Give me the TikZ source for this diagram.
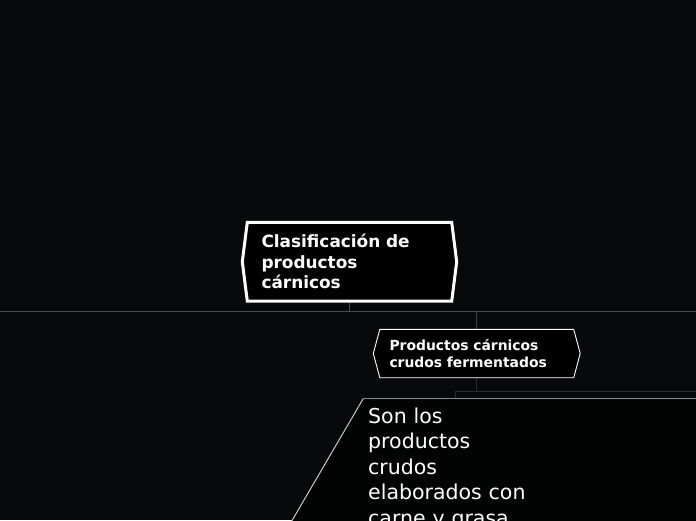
\documentclass[tikz,border=0pt]{standalone}
\usepackage{fontspec}
\setmainfont{DejaVu Sans}
\usetikzlibrary{backgrounds,calc}
\definecolor{bg}{HTML}{08090B}
\definecolor{busc}{HTML}{4B4B4B}
\definecolor{dline}{HTML}{2C2C2C}
\definecolor{tline}{HTML}{8A8A8A}
\begin{document}
\begin{tikzpicture}[x=1pt,y=-1pt,
  txt/.style={inner ysep=0pt, align=left, text=white, anchor=center},
  bus/.style={draw=busc, line width=1.2pt},
  dconn/.style={draw=dline, line width=1.2pt}]
\useasboundingbox (0,0) rectangle (696,520);
% nodes (text)
\node[txt, text width=176pt, inner xsep=19pt, minimum height=78.5pt,
  font=\fontsize{16.9}{20.5}\selectfont\bfseries] (root) at (349.5,261.75)
  {Clasificación de\\productos\\cárnicos};
\node[txt, text width=174.5pt, inner xsep=16pt, minimum height=48pt,
  font=\fontsize{13.9}{17}\selectfont\bfseries] (sub) at (476.75,353.5)
  {Productos cárnicos\\crudos fermentados};
\node[txt, anchor=north west, text width=200pt, inner xsep=0pt,
  font=\fontsize{20.5}{25.5}\selectfont] (desc) at (368,407.5)
  {Son los\\productos\\crudos\\elaborados con\\carne y grasa};
\coordinate (busL) at (0,311.7);
\coordinate (busR) at (696,311.7);
\coordinate (descTop) at (363.3,398.5);
\coordinate (descEdge) at (696,398.5);
\coordinate (descLow) at (286.5,530);
\coordinate (j) at (455.3,391.3);
\coordinate (jR) at (696,391.3);
\begin{scope}[on background layer]
  \fill[bg] (0,0) rectangle (696,520);
  % connectors
  \draw[bus] (busL) -- (busR);
  \draw[bus] (root.south) -- (root.south |- busL);
  \draw[bus, draw=busc!80!black] (sub.north |- busL) -- (sub.north);
  \draw[dconn] (sub.south) -- (sub.south |- j);
  \draw[dconn] (j) -- (jR);
  \draw[dconn] (j) -- (j |- descTop);
  % desc shape
  \begin{scope}
    \clip (0,0) rectangle (696,520);
    \fill[black!70!bg] (descLow) -- (descTop) -- ($(descEdge)+(5,0)$) -- (701,530) -- cycle;
    \draw[white!85!black, line width=0.9pt] (descLow) -- (descTop);
    \draw[tline, line width=1.6pt] (descTop) -- ($(descEdge)+(5,0)$);
  \end{scope}
  % root shape
  \draw[white, line width=3pt, fill=black]
    ([xshift=5pt]root.north west) -- ([xshift=-5pt]root.north east) -- (root.east)
    -- ([xshift=-5pt]root.south east) -- ([xshift=5pt]root.south west) -- (root.west) -- cycle;
  % sub shape
  \draw[white, line width=0.9pt, fill=black]
    ([xshift=6.5pt]sub.north west) -- ([xshift=-6.5pt]sub.north east) -- (sub.east)
    -- ([xshift=-6.5pt]sub.south east) -- ([xshift=6.5pt]sub.south west) -- (sub.west) -- cycle;
\end{scope}
\end{tikzpicture}
\end{document}
